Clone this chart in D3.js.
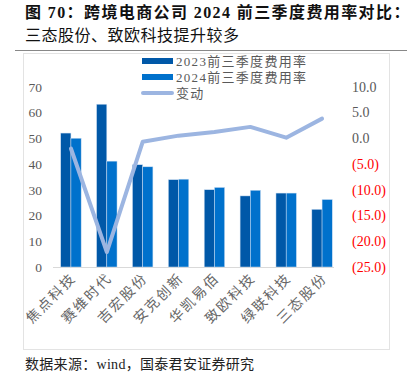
<!DOCTYPE html>
<html>
<head>
<meta charset="utf-8">
<script src="https://cdn.jsdelivr.net/npm/d3@7"></script>
<style>
  body { margin: 0; background: #fff; }
  text { font-family: "Liberation Serif", "Noto Sans CJK SC", serif; }
</style>
</head>
<body>
<div id="chart"></div>
<script>
// data
var categories = ["焦点科技", "赛维时代", "吉宏股份", "安克创新", "华凯易佰", "致欧科技", "绿联科技", "三态股份"];
var rate2023 = [52.0, 63.2, 39.7, 33.9, 30.0, 27.6, 28.7, 22.4];
var rate2024 = [50.0, 41.1, 38.9, 34.1, 30.9, 29.8, 28.7, 26.2];
var change = [-2.0, -22.1, -0.7, 0.5, 1.2, 2.2, 0.1, 3.8];
var seriesNames = ["2023前三季度费用率", "2024前三季度费用率", "变动"];
var leftTicks = [0, 10, 20, 30, 40, 50, 60, 70];
var rightTicks = [10, 5, 0, -5, -10, -15, -20, -25];

var W = 414, H = 376;
var colors = ["#0058A8", "#0071CC", "#9CB5E1"];

var svg = d3.select("#chart")
    .append("svg")
    .attr("width", W)
    .attr("height", H);

// title
svg.append("text")
    .attr("x", 25).attr("y", 18)
    .style("font-size", "16px").style("font-weight", "bold").style("fill", "#111")
    .style("letter-spacing", "1.4px")
    .text("图 70：跨境电商公司 2024 前三季度费用率对比：");
svg.append("text")
    .attr("x", 25).attr("y", 41)
    .style("font-size", "16px").style("fill", "#111")
    .style("letter-spacing", "0.5px")
    .text("三态股份、致欧科技提升较多");

// separator + chart frame
svg.append("line")
    .attr("x1", 15).attr("x2", 407).attr("y1", 50.5).attr("y2", 50.5)
    .style("stroke", "#888").style("stroke-width", 1.2);
svg.append("rect")
    .attr("x", 23.5).attr("y", 53.5).attr("width", 366).attr("height", 296)
    .style("fill", "none").style("stroke", "#e3e3e3");

// footer
svg.append("text")
    .attr("x", 25).attr("y", 369)
    .style("font-size", "14px").style("fill", "#222")
    .style("letter-spacing", "0.3px")
    .text("数据来源：wind，国泰君安证券研究");

// scales
var x = d3.scaleBand()
    .domain(categories)
    .range([53, 340])
    .paddingInner(0.43)
    .paddingOuter(0.215);

var x1 = d3.scaleBand()
    .domain([0, 1])
    .range([0, x.bandwidth()]);

var yL = d3.scaleLinear().domain([0, 70]).range([267, 86.7]);
var yR = d3.scaleLinear().domain([-25, 10]).range([267, 86.7]);

// left axis
var leftAxis = svg.append("g")
    .attr("transform", "translate(42,0)")
    .call(d3.axisLeft(yL).tickValues(leftTicks).tickSize(0).tickPadding(0));
leftAxis.select(".domain").remove();
leftAxis.selectAll("text")
    .style("font-size", "13.5px").style("fill", "#595959")
    .style("font-family", "'Liberation Serif', serif");

// right axis
var rightAxis = svg.append("g")
    .attr("transform", "translate(352,0)")
    .call(d3.axisRight(yR).tickValues(rightTicks).tickSize(0).tickPadding(0)
        .tickFormat(function (d) {
            return d < 0 ? "(" + d3.format(".1f")(-d) + ")" : d3.format(".1f")(d);
        }));
rightAxis.select(".domain").remove();
rightAxis.selectAll("text")
    .style("font-size", "14px")
    .style("font-family", "'Liberation Serif', serif")
    .style("fill", function (d) { return d < 0 ? "#FF0000" : "#595959"; });

// baseline
svg.append("line")
    .attr("x1", 53).attr("x2", 334).attr("y1", yL(0) + 0.5).attr("y2", yL(0) + 0.5)
    .style("stroke", "#d9d9d9");

// bars
var groups = svg.selectAll("g.grp")
    .data(categories)
    .enter()
    .append("g")
    .attr("class", "grp")
    .attr("transform", function (d) { return "translate(" + x(d) + ",0)"; });

groups.selectAll("rect")
    .data(function (d, i) { return [rate2023[i], rate2024[i]]; })
    .enter()
    .append("rect")
    .attr("x", function (d, j) { return x1(j); })
    .attr("y", function (d) { return yL(d); })
    .attr("width", x1.bandwidth())
    .attr("height", function (d) { return yL(0) - yL(d); })
    .style("fill", function (d, j) { return colors[j]; })
    .style("stroke", "#cfe0f3")
    .style("stroke-width", 0.5);

// change line
var line = d3.line()
    .x(function (d, i) { return x(categories[i]) + x.bandwidth() / 2; })
    .y(function (d) { return yR(d); });

svg.append("path")
    .datum(change)
    .attr("d", line)
    .style("fill", "none")
    .style("stroke", colors[2])
    .style("stroke-width", 4)
    .style("stroke-linejoin", "round")
    .style("stroke-linecap", "round");

// x labels
svg.selectAll("text.xl")
    .data(categories)
    .enter()
    .append("text")
    .attr("class", "xl")
    .attr("text-anchor", "end")
    .attr("transform", function (d) {
        return "translate(" + (x(d) + x.bandwidth() / 2 + 6) + ",279) rotate(-45)";
    })
    .style("font-size", "14px")
    .style("letter-spacing", "2px")
    .style("fill", "#666")
    .text(function (d) { return d; });

// legend
var legend = svg.selectAll("g.leg")
    .data(seriesNames)
    .enter()
    .append("g")
    .attr("class", "leg")
    .attr("transform", function (d, i) { return "translate(142," + (61 + i * 16) + ")"; });

legend.each(function (d, i) {
    var g = d3.select(this);
    if (i < 2) {
        g.append("rect").attr("x", 0).attr("y", -3).attr("width", 31).attr("height", 6)
            .style("fill", colors[i]);
    } else {
        g.append("line").attr("x1", 1).attr("x2", 30).attr("y1", 0).attr("y2", 0)
            .style("stroke", colors[2]).style("stroke-width", 4).style("stroke-linecap", "round");
    }
    g.append("text").attr("x", 34).attr("y", 0).attr("dy", "0.35em")
        .style("font-size", "13px").style("fill", "#595959")
        .style("letter-spacing", "1.3px")
        .text(d);
});
</script>
</body>
</html>
